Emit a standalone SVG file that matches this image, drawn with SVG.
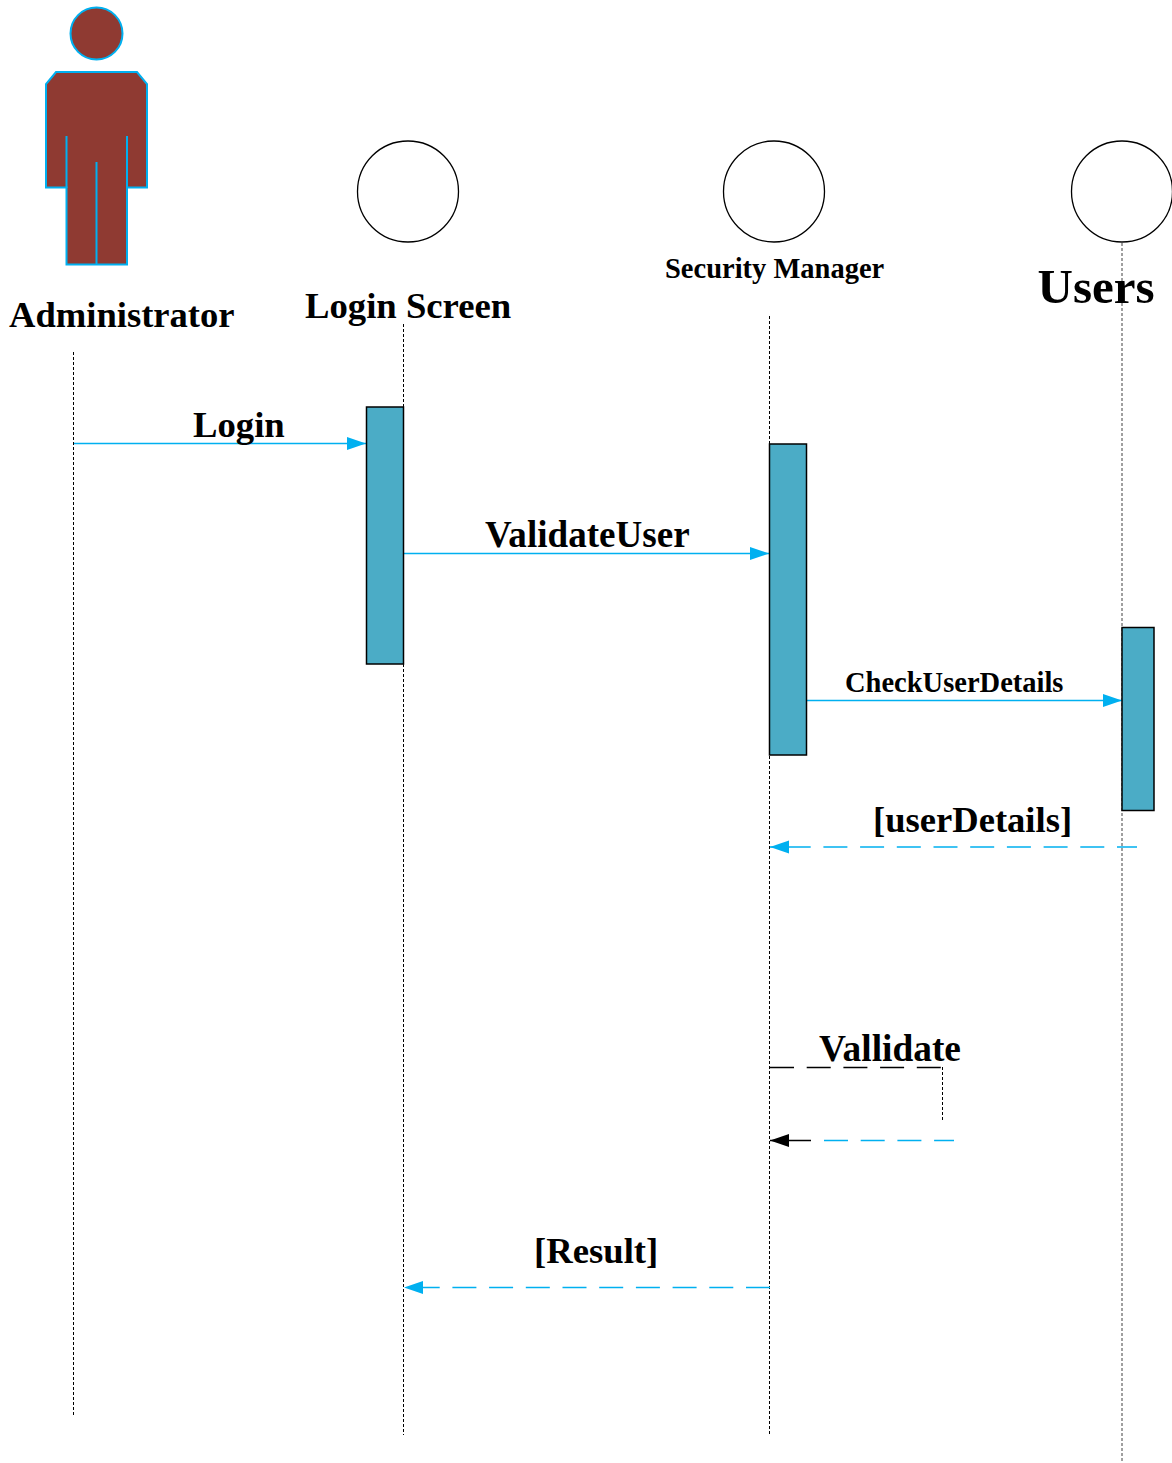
<svg xmlns="http://www.w3.org/2000/svg" width="1172" height="1463" viewBox="0 0 1172 1463">
<style>
text{font-family:"Liberation Serif","Times New Roman",serif;font-weight:bold;fill:#000}
.life{stroke:#000;stroke-width:1;stroke-dasharray:3 2;fill:none}
.actor{fill:#fff;stroke:#000;stroke-width:1.3}
.act{fill:#4bacc6;stroke:#000;stroke-width:1.5}
.msg{stroke:#00b0f0;stroke-width:1.5;fill:none}
.ret{stroke:#00b0f0;stroke-width:1.5;fill:none;stroke-dasharray:24 12.7}
.body{fill:#8f3a32;stroke:#00b0f0;stroke-width:2}
</style>
<defs>
<marker id="a" markerUnits="userSpaceOnUse" markerWidth="20" markerHeight="14" refX="19" refY="7" orient="auto"><path d="M0 .5L19 7L0 13.500Z" fill="#00b0f0"/></marker>
<marker id="b" markerUnits="userSpaceOnUse" markerWidth="20" markerHeight="14" refX="19" refY="7" orient="auto"><path d="M0 .5L19 7L0 13.500Z" fill="#000"/></marker>
</defs>
<g id="connectors">
<path class="life" d="M73.500 352V1417"/>
<path class="life" d="M403.500 324V1435"/>
<path class="life" d="M769.500 316V1436"/>
<path class="life" d="M1122 243V1463" stroke-opacity=".75"/>
<path class="msg" d="M74 443.500H366" marker-end="url(#a)"/>
<path class="msg" d="M404 553.500H769" marker-end="url(#a)"/>
<path class="msg" d="M807 700.500H1122" marker-end="url(#a)"/>
<path class="ret" d="M1137 847H770" stroke-dashoffset="4" marker-end="url(#a)"/>
<path d="M770 1067.500H942" fill="none" stroke="#000" stroke-width="1.500" stroke-dasharray="24 12.7"/>
<path class="life" d="M942.500 1067V1122"/>
<path class="ret" d="M824 1140.500H954"/>
<path d="M811 1140.500H770" fill="none" stroke="#000" stroke-width="1.500" marker-end="url(#b)"/>
<path class="ret" d="M770 1287.500H404" marker-end="url(#a)"/>
</g>
<g id="administrator">
<circle class="body" cx="96.500" cy="33.500" r="26"/>
<path class="body" d="M56 72H137L147 84V187.500H127V264.500H66.500V187.500H46V84Z"/>
<path class="msg" d="M66.500 136V188M127 136V188M96.500 162V264.500" style="stroke-width:2"/>
<text x="9" y="327" font-size="36.600">Administrator</text>
</g>
<g id="login-screen">
<circle class="actor" cx="408" cy="191.500" r="50.500"/>
<text x="305" y="318" font-size="36.700">Login Screen</text>
<rect class="act" x="366.500" y="407" width="37" height="257"/>
</g>
<g id="security-manager">
<circle class="actor" cx="774" cy="191.500" r="50.500"/>
<text x="665" y="278" font-size="28.500">Security Manager</text>
<rect class="act" x="769.500" y="444" width="37" height="311"/>
</g>
<g id="users">
<circle class="actor" cx="1122" cy="191.500" r="50.500"/>
<text x="1037.500" y="303" font-size="49">Users</text>
<rect class="act" x="1122" y="627.500" width="32" height="183"/>
</g>
<g id="labels">
<text x="193" y="437" font-size="36.700">Login</text>
<text x="485" y="547" font-size="37.100">ValidateUser</text>
<text x="845" y="692" font-size="28.500">CheckUserDetails</text>
<text x="873" y="832" font-size="36.600">[userDetails]</text>
<text x="819" y="1061" font-size="37.400">Vallidate</text>
<text x="534" y="1263" font-size="36.700">[Result]</text>
</g>
</svg>
